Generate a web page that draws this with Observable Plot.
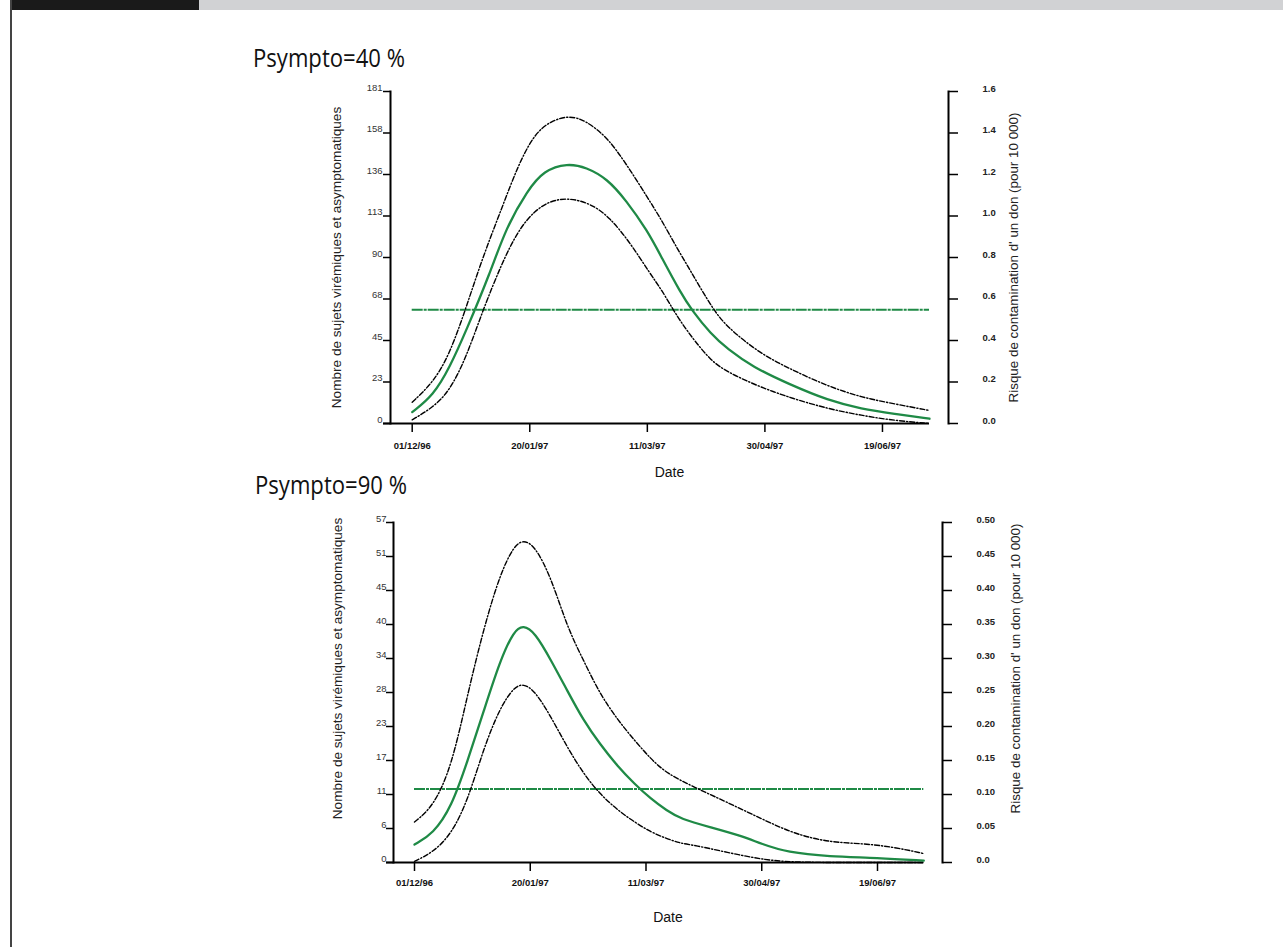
<!DOCTYPE html>
<html><head><meta charset="utf-8">
<script src="https://cdn.jsdelivr.net/npm/d3@7"></script>
<script src="https://cdn.jsdelivr.net/npm/@observablehq/plot@0.6"></script>
<style>
body{margin:0;background:#fff;width:1283px;height:947px;position:relative;overflow:hidden;font-family:"Liberation Sans",Arial,sans-serif}
.abs{position:absolute}
.title{font-family:"Open Sans","Liberation Sans",sans-serif;font-size:26px;line-height:1;color:#111;white-space:nowrap;transform:scaleX(0.85);transform-origin:0 0}
</style></head><body>
<div class="abs" style="left:10px;top:0;width:189px;height:10px;background:#1a1a1a"></div>
<div class="abs" style="left:199px;top:0;width:1084px;height:10px;background:#d1d2d4"></div>
<div class="abs" style="left:10px;top:0;width:1.5px;height:947px;background:#444"></div>
<div id="c1" class="abs" style="left:0;top:0"></div>
<div id="c2" class="abs" style="left:0;top:480px"></div>
<div class="abs title" style="left:253px;top:44px">Psympto=40 %</div>
<div class="abs title" style="left:255px;top:471px">Psympto=90 %</div>
<script>
// ---------- shared ----------
const startDay = "1996-12-01";
const endDay = "1997-07-09";
const dateTicks = ["1996-12-01", "1997-01-20", "1997-03-11", "1997-04-30", "1997-06-19"];
const dateTickLabels = ["01/12/96", "20/01/97", "11/03/97", "30/04/97", "19/06/97"];
const yLabel = "Nombre de sujets virémiques et asymptomatiques";
const rLabel = "Risque de contamination d' un don (pour 10 000)";
const xLabel = "Date";

// ---------- panel 1 : Psympto = 40 % ----------
const p1YMax = 181;
const p1YTicks = [0, 22.625, 45.25, 67.875, 90.5, 113.125, 135.75, 158.375, 181];
const p1YTickLabels = ["0", "23", "45", "68", "90", "113", "136", "158", "181"];
const p1RMax = 1.6;
const p1RTicks = [0, 0.2, 0.4, 0.6, 0.8, 1.0, 1.2, 1.4, 1.6];
const p1RTickLabels = ["0.0", "0.2", "0.4", "0.6", "0.8", "1.0", "1.2", "1.4", "1.6"];
const p1Threshold = 0.548;
const p1CenterDays = [0, 9, 16, 23, 33, 40, 49, 56, 66, 74, 83, 91, 100, 106, 114, 119, 127, 134, 145, 160, 177, 191, 205, 220];
const p1Center = [6.2, 15.3, 30.7, 50.7, 81.6, 107, 127, 138, 141.9, 139.7, 133.4, 121.6, 105.2, 90.7, 71.6, 61.6, 48.9, 40.7, 30.7, 21.6, 12.5, 8.0, 5.3, 2.6];
const p1UpperDays = [0, 9, 16, 23, 30, 38, 45, 52, 59, 67, 74, 83, 91, 100, 106, 112, 118, 128, 134, 148, 162, 177, 191, 205, 220];
const p1Upper = [11.6, 22.5, 38, 63.4, 90.7, 117, 140.7, 158, 165, 168, 165, 156, 141.6, 123.4, 111, 97, 84, 62, 52.5, 38, 28.9, 20.2, 14.3, 10.7, 7.1];
const p1LowerDays = [0, 9, 16, 23, 30, 38, 45, 52, 59, 67, 76, 84, 93, 101, 106, 111, 115, 120, 127, 134, 148, 162, 177, 191, 205, 220];
const p1Lower = [2, 8.9, 18, 36.1, 61.6, 87, 105.2, 116, 121.6, 123, 119.8, 112.5, 98, 82, 73, 62, 54, 45.3, 34.3, 28, 19.8, 13.5, 8, 4.4, 1.6, 0];

// ---------- panel 2 : Psympto = 90 % ----------
const p2YMax = 57;
const p2YTicks = [0, 5.7, 11.4, 17.1, 22.8, 28.5, 34.2, 39.9, 45.6, 51.3, 57];
const p2YTickLabels = ["0", "6", "11", "17", "23", "28", "34", "40", "45", "51", "57"];
const p2RMax = 0.5;
const p2RTicks = [0, 0.05, 0.1, 0.15, 0.2, 0.25, 0.3, 0.35, 0.4, 0.45, 0.5];
const p2RTickLabels = ["0.0", "0.05", "0.10", "0.15", "0.20", "0.25", "0.30", "0.35", "0.40", "0.45", "0.50"];
const p2Threshold = 0.108;
const p2CenterDays = [0, 8, 16, 23, 30, 37, 43, 47, 52, 59, 66, 73, 80, 88, 95, 102, 109, 115, 128, 141, 150, 161, 179, 200, 220];
const p2Center = [3.0, 4.8, 9.3, 17.1, 25.5, 33.9, 38.9, 39.8, 38.6, 33.9, 28.8, 23.8, 19.9, 16, 13.2, 10.7, 8.7, 7.3, 5.9, 4.5, 3.1, 1.7, 1.0, 0.8, 0.3];
const p2UpperDays = [0, 8, 16, 23, 30, 37, 43, 47, 52, 59, 66, 73, 80, 88, 95, 102, 109, 121, 135, 150, 164, 179, 193, 207, 220];
const p2Upper = [6.8, 9.3, 16, 28.3, 39.4, 48.4, 53.1, 54.1, 53.1, 47.8, 39.4, 33.9, 28.3, 23.8, 20.5, 17.4, 14.9, 12.6, 10.1, 7.3, 4.8, 3.4, 3.2, 2.6, 1.5];
const p2LowerDays = [0, 8, 16, 23, 30, 37, 43, 47, 52, 59, 66, 73, 80, 88, 95, 102, 109, 115, 121, 135, 150, 164, 190, 220];
const p2Lower = [0.2, 1.7, 4.8, 10.4, 19.3, 26, 29.4, 30, 28.8, 24.4, 19.3, 14.9, 11.5, 8.7, 6.8, 5.1, 4.0, 3.2, 2.9, 1.7, 0.5, 0, 0, 0];

// ---------- drawing ----------
const GREEN = "#1f8a46";
const parseDay = s => new Date(s + "T00:00:00Z");
const t0 = parseDay(startDay), t1 = parseDay(endDay);
const dayToDate = d => new Date(t0.getTime() + d * 864e5);
const tickDates = dateTicks.map(parseDay);
const rows = (days, vals) => days.map((d, i) => ({date: dayToDate(d), v: vals[i]}));

function panel(o) {
  const k = o.yMax / o.rMax;
  const rTickPos = o.rTicks.map(r => r * k);
  const curve = "basis";
  const dash = "5,2,1.2,2";
  return Plot.plot({
    width: 1283, height: o.height,
    marginLeft: o.ml, marginRight: o.mr, marginTop: o.mt, marginBottom: o.mb,
    style: {background: "transparent", fontFamily: "'Liberation Sans', Arial, sans-serif", overflow: "visible"},
    x: {type: "utc", domain: [t0, t1], insetLeft: o.il, insetRight: o.ir},
    y: {domain: [0, o.yMax]},
    marks: [
      Plot.frame({anchor: "left", strokeWidth: 2}),
      Plot.frame({anchor: "right", strokeWidth: 2}),
      Plot.ruleY([{y: 0, x1: t0, x2: t1}], {y: "y", x1: "x1", x2: "x2", insetLeft: -o.il - 7, strokeWidth: 2}),
      // left axis
      Plot.axisY(o.yTicks, {anchor: "left", tickSize: 7, strokeWidth: 1.5, fill: "none", label: null}),
      Plot.axisY(o.yTicks, {anchor: "left", tickSize: 0, tickPadding: o.lpad, dy: -4, fontSize: 9.5, fill: "#333",
        tickFormat: d => o.yTickLabels[o.yTicks.indexOf(d)], label: null}),
      // right axis
      Plot.axisY(rTickPos, {anchor: "right", tickSize: 9, strokeWidth: 1.5, fill: "none", label: null}),
      Plot.axisY(rTickPos, {anchor: "right", tickSize: 0, tickPadding: 34, dy: -3, fontSize: 9.5, fontWeight: "bold", fill: "#222",
        tickFormat: d => o.rTickLabels[rTickPos.indexOf(d)], label: null}),
      // x axis
      Plot.axisX(tickDates, {anchor: "bottom", tickSize: 9, strokeWidth: 1.5, fill: "none", label: null}),
      Plot.axisX(tickDates, {anchor: "bottom", tickSize: 0, tickPadding: o.xpad, fontSize: 9.5, fontWeight: "bold", fill: "#111",
        tickFormat: d => dateTickLabels[tickDates.findIndex(t => +t === +d)], label: null}),
      // axis titles
      Plot.text([yLabel], {frameAnchor: "left", textAnchor: "middle", rotate: -90, dx: -o.ylOff, dy: o.labDy, fontSize: 13.6, fill: "#222", text: d => d}),
      Plot.text([rLabel], {frameAnchor: "right", textAnchor: "middle", rotate: -90, dx: o.rlOff, dy: o.labDy, fontSize: 13.4, fill: "#222", text: d => d}),
      Plot.text([xLabel], {frameAnchor: "bottom", dy: o.xlOff, fontSize: 14, fill: "#111", text: d => d}),
      // threshold
      Plot.ruleY([{y: o.threshold * k, x1: t0, x2: t1}], {y: "y", x1: "x1", x2: "x2", stroke: GREEN, strokeWidth: 2, strokeDasharray: "11,1,3,1"}),
      // curves
      Plot.line(rows(o.upperDays, o.upper), {x: "date", y: "v", curve, stroke: "#000", strokeWidth: 1.4, strokeDasharray: dash}),
      Plot.line(rows(o.lowerDays, o.lower), {x: "date", y: "v", curve, stroke: "#000", strokeWidth: 1.4, strokeDasharray: dash}),
      Plot.line(rows(o.centerDays, o.center), {x: "date", y: "v", curve, stroke: GREEN, strokeWidth: 2.3})
    ]
  });
}

document.getElementById("c1").append(panel({
  height: 480, mt: 91, mb: 57, ml: 390, mr: 335, il: 21.7, ir: 19,
  lpad: 8, xpad: 18.5, ylOff: 54, rlOff: 65, xlOff: 53, labDy: 0,
  yMax: p1YMax, yTicks: p1YTicks, yTickLabels: p1YTickLabels,
  rMax: p1RMax, rTicks: p1RTicks, rTickLabels: p1RTickLabels, threshold: p1Threshold,
  centerDays: p1CenterDays, center: p1Center, upperDays: p1UpperDays, upper: p1Upper, lowerDays: p1LowerDays, lower: p1Lower
}));

document.getElementById("c2").append(panel({
  height: 467, mt: 42, mb: 85, ml: 393, mr: 341, il: 21, ir: 18.7,
  lpad: 7, xpad: 16.3, ylOff: 56, rlOff: 73, xlOff: 59, labDy: -24,
  yMax: p2YMax, yTicks: p2YTicks, yTickLabels: p2YTickLabels,
  rMax: p2RMax, rTicks: p2RTicks, rTickLabels: p2RTickLabels, threshold: p2Threshold,
  centerDays: p2CenterDays, center: p2Center, upperDays: p2UpperDays, upper: p2Upper, lowerDays: p2LowerDays, lower: p2Lower
}));
</script>
</body></html>
